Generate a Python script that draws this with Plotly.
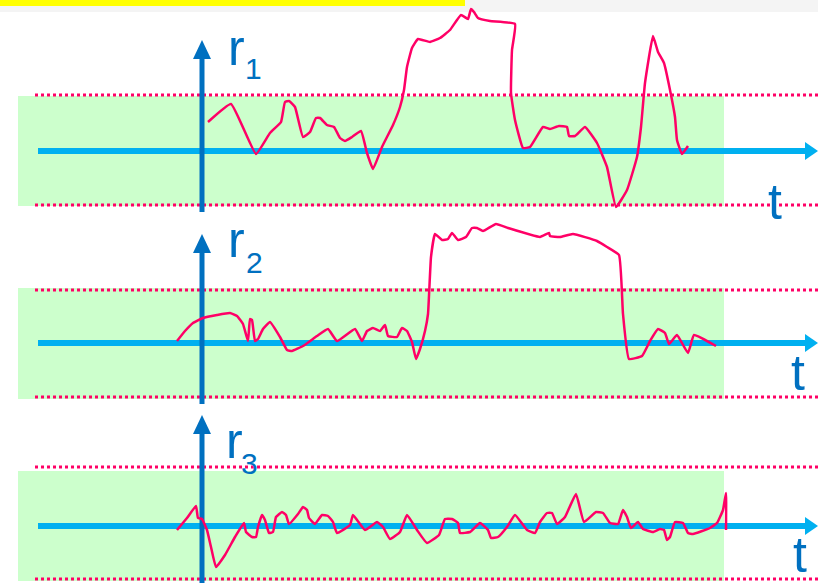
import plotly.graph_objects as go

# ---------------- data (t in horizontal units, r in vertical units above each baseline) ----------------
t1 = [208, 231, 256, 270, 281, 285, 289, 295, 303, 310, 316, 320, 327, 334, 340, 345, 352, 361, 367, 373,
      382, 393, 400, 404, 407, 412, 418, 430, 440, 450, 461, 468, 471, 474, 478, 490, 515, 512, 511, 515,
      523, 530, 543, 550, 559, 567, 569, 575, 585, 597, 607, 616, 627, 637, 641, 645, 653, 658, 664, 670,
      675, 677, 682, 688]
r1 = [29, 47, -3, 18, 29, 49, 50, 44, 14, 19, 33, 33, 26, 24, 13, 10, 14, 20, -2, -18,
      4, 26, 44, 61, 84, 103, 112, 109, 113, 121, 136, 132, 142, 139, 133, 130, 127, 101, 58, 31,
      3, 4, 24, 22, 25, 24, 15, 15, 24, 8, -16, -56, -39, -6, 24, 68, 115, 99, 88, 61,
      34, 11, -3, 5]

t2 = [177, 185, 193, 203, 217, 230, 237, 243, 248, 250, 252, 255, 258, 263, 270, 280, 287, 292, 303, 317,
      328, 337, 355, 362, 367, 373, 380, 385, 388, 397, 402, 407, 412, 416, 420, 425, 428, 431, 435, 442,
      448, 452, 458, 466, 472, 477, 483, 496, 508, 540, 549, 550, 560, 573, 597, 607, 619, 623, 629, 642,
      650, 658, 665, 669, 677, 688, 694, 716]
r2 = [2, 12, 20, 25, 28, 30, 27, 19, 2, 24, 23, 2, 4, 14, 21, 6, -7, -8, -3, 7,
      14, 2, 14, 2, 12, 15, 12, 18, 7, 6, 15, 12, 1, -16, -6, 12, 29, 86, 109, 103,
      104, 110, 103, 106, 115, 115, 112, 119, 115, 106, 110, 107, 106, 109, 102, 96, 88, 29, -16, -13,
      2, 14, 10, -1, 8, -10, 8, -3]

t3 = [177, 187, 196, 198, 202, 207, 211, 216, 225, 235, 244, 246, 252, 256, 258, 262, 265, 269, 273, 276,
      282, 286, 289, 298, 303, 307, 309, 315, 322, 328, 333, 337, 350, 353, 365, 377, 383, 390, 400, 407,
      417, 427, 439, 445, 452, 458, 460, 470, 480, 488, 491, 498, 507, 515, 527, 535, 540, 547, 552, 557,
      565, 576, 584, 596, 603, 610, 618, 623, 627, 631, 638, 643, 653, 660, 664, 667, 670, 675, 683, 688,
      693, 710, 717, 723, 726, 726]
r3 = [-4, 8, 20, 8, 7, -4, -21, -41, -29, -11, 3, -6, -11, -11, -1, 11, 6, -7, -6, 9,
      14, 11, 2, 12, 19, 16, 8, 2, 11, 10, 4, -7, 1, 11, -4, 4, -1, -13, -6, 11,
      -4, -17, -9, 7, 7, 3, -7, -6, 3, -4, -12, -11, -1, 11, -4, -7, 4, 13, 13, 2,
      9, 32, 4, 14, 13, 3, 2, 16, 9, -2, 4, -3, -6, -3, -4, -14, -11, 4, 3, -7,
      -8, -2, 3, 16, 33, -4]

axis_labels = ["1", "2", "3"]
time_label = "t"
signal_name = "r"

# ---------------- layout constants ----------------
W, H = 818, 583
baselines = [151, 343, 526]
green_box = [(96, 206), (288, 399), (471, 581)]
dotted = [(95, 205), (290, 397), (467, 579)]
stem_bottom = [212, 404, 583]
arrow_tip = [40, 234, 415]
r_label_pos = [((237, 48), (253, 68)), ((237, 240), (254, 262)), ((234, 441), (249, 463))]
t_label_pos = [(775, 202), (798, 373), (800, 555)]

RED = "#FF0066"
LBLUE = "#00B0F0"
DBLUE = "#0070C0"
GREEN = "#CCFFCC"


def X(px):
    return px / W


def Y(py):
    return 1 - py / H


fig = go.Figure()
series = [(t1, r1), (t2, r2), (t3, r3)]
for i, (tt, rr) in enumerate(series):
    fig.add_trace(go.Scatter(
        x=tt, y=rr, mode="lines", yaxis="y" if i == 0 else f"y{i+1}",
        line=dict(color=RED, width=2.5, shape="spline", smoothing=0.35),
        hoverinfo="skip", showlegend=False))

shapes = []
# top band
shapes.append(dict(type="rect", xref="paper", yref="paper", x0=0, x1=1, y0=Y(12), y1=1,
                   fillcolor="#F4F4F4", line=dict(width=0), layer="below"))
shapes.append(dict(type="rect", xref="paper", yref="paper", x0=0, x1=X(465), y0=Y(6), y1=1,
                   fillcolor="#FFFF00", line=dict(width=0), layer="below"))

for i in range(3):
    b = baselines[i]
    g0, g1 = green_box[i]
    shapes.append(dict(type="rect", xref="paper", yref="paper", x0=X(18), x1=X(724), y0=Y(g1), y1=Y(g0),
                       fillcolor=GREEN, line=dict(width=0), layer="below"))
    for d in dotted[i]:
        shapes.append(dict(type="line", xref="paper", yref="paper", x0=X(35), x1=X(818), y0=Y(d), y1=Y(d),
                           line=dict(color=RED, width=3, dash="dot"), layer="below"))
    # horizontal time axis
    shapes.append(dict(type="line", xref="paper", yref="paper", x0=X(38), x1=X(807), y0=Y(b), y1=Y(b),
                       line=dict(color=LBLUE, width=6), layer="below"))
    shapes.append(dict(type="path", xref="paper", yref="paper",
                       path=f"M {X(805)},{Y(b-9)} L {X(818)},{Y(b)} L {X(805)},{Y(b+9)} Z",
                       fillcolor=LBLUE, line=dict(width=0), layer="below"))
    # vertical signal axis
    tip = arrow_tip[i]
    shapes.append(dict(type="line", xref="paper", yref="paper", x0=X(202), x1=X(202),
                       y0=Y(stem_bottom[i]), y1=Y(tip + 17),
                       line=dict(color=DBLUE, width=5), layer="below"))
    shapes.append(dict(type="path", xref="paper", yref="paper",
                       path=f"M {X(193)},{Y(tip+19)} L {X(202)},{Y(tip)} L {X(211)},{Y(tip+19)} Z",
                       fillcolor=DBLUE, line=dict(width=0), layer="below"))

annotations = []
for i in range(3):
    (rx, ry), (sx, sy) = r_label_pos[i]
    annotations.append(dict(text=signal_name, xref="paper", yref="paper", x=X(rx), y=Y(ry),
                            xanchor="center", yanchor="middle", showarrow=False,
                            font=dict(family="Liberation Sans, Arial", size=50, color=DBLUE)))
    annotations.append(dict(text=axis_labels[i], xref="paper", yref="paper", x=X(sx), y=Y(sy),
                            xanchor="center", yanchor="middle", showarrow=False,
                            font=dict(family="Liberation Sans, Arial", size=30, color=DBLUE)))
    tx, ty = t_label_pos[i]
    annotations.append(dict(text=time_label, xref="paper", yref="paper", x=X(tx), y=Y(ty),
                            xanchor="center", yanchor="middle", showarrow=False,
                            font=dict(family="Liberation Sans, Arial", size=50, color=DBLUE)))

hidden = dict(visible=False, showgrid=False, zeroline=False, fixedrange=True)
fig.update_layout(
    width=W, height=H,
    margin=dict(l=0, r=0, t=0, b=0),
    paper_bgcolor="white", plot_bgcolor="white",
    xaxis=dict(range=[0, W], domain=[0, 1], **hidden),
    yaxis=dict(range=[baselines[0] - H, baselines[0]], domain=[0, 1], **hidden),
    yaxis2=dict(range=[baselines[1] - H, baselines[1]], domain=[0, 1], overlaying="y", **hidden),
    yaxis3=dict(range=[baselines[2] - H, baselines[2]], domain=[0, 1], overlaying="y", **hidden),
    shapes=shapes, annotations=annotations, showlegend=False,
)

fig.write_html("out.html", config={"displayModeBar": False},
               post_script="document.body.style.margin='0';document.body.style.overflow='hidden';")
